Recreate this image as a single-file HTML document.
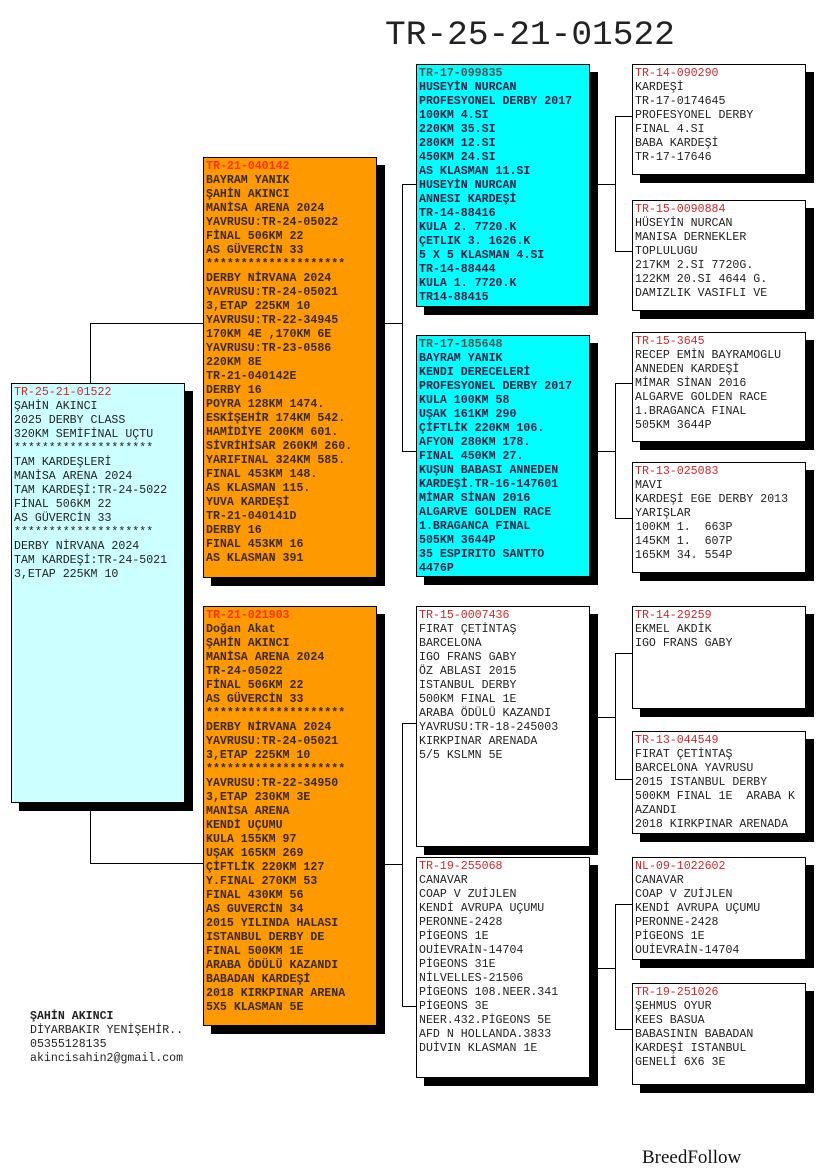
<!DOCTYPE html>
<html><head><meta charset="utf-8">
<style>
body{margin:0;width:825px;height:1172px;background:#fff;position:relative;overflow:hidden;font-family:"Liberation Mono",monospace;}
.b{position:absolute;border:1px solid #000;box-shadow:8px 8px 0 #000;box-sizing:border-box;padding:2px 0 0 2px;font-size:11.6px;line-height:14px;white-space:pre;color:#222;overflow:hidden}
.o{background:#ff9900;font-weight:bold;color:#3a2a10}
.c{background:#00ffff;color:#224;font-weight:bold}
.r{background:#ccffff}
.w{background:#fff}
.h{color:#cc2a2a}
.o .h{color:#ff3300}
.c .h{color:#555}
.l{position:absolute;background:#000}
</style></head><body>
<div style="position:absolute;left:385px;top:18px;font-size:34.5px;line-height:36px;color:#222">TR-25-21-01522</div>

<!-- connectors -->
<div class="l" style="left:90px;top:323px;width:1px;height:60px"></div>
<div class="l" style="left:90px;top:323px;width:113px;height:1px"></div>
<div class="l" style="left:90px;top:802px;width:1px;height:62px"></div>
<div class="l" style="left:90px;top:863px;width:113px;height:1px"></div>

<div class="l" style="left:384px;top:323px;width:18px;height:1px"></div>
<div class="l" style="left:402px;top:184px;width:1px;height:268px"></div>
<div class="l" style="left:402px;top:184px;width:14px;height:1px"></div>
<div class="l" style="left:402px;top:451px;width:14px;height:1px"></div>

<div class="l" style="left:384px;top:864px;width:18px;height:1px"></div>
<div class="l" style="left:402px;top:723px;width:1px;height:284px"></div>
<div class="l" style="left:402px;top:723px;width:14px;height:1px"></div>
<div class="l" style="left:402px;top:1006px;width:14px;height:1px"></div>

<div class="l" style="left:597px;top:184px;width:18px;height:1px"></div>
<div class="l" style="left:615px;top:116px;width:1px;height:136px"></div>
<div class="l" style="left:615px;top:116px;width:17px;height:1px"></div>
<div class="l" style="left:615px;top:251px;width:17px;height:1px"></div>

<div class="l" style="left:597px;top:451px;width:18px;height:1px"></div>
<div class="l" style="left:615px;top:383px;width:1px;height:136px"></div>
<div class="l" style="left:615px;top:383px;width:17px;height:1px"></div>
<div class="l" style="left:615px;top:518px;width:17px;height:1px"></div>

<div class="l" style="left:597px;top:717px;width:18px;height:1px"></div>
<div class="l" style="left:615px;top:653px;width:1px;height:127px"></div>
<div class="l" style="left:615px;top:653px;width:17px;height:1px"></div>
<div class="l" style="left:615px;top:779px;width:17px;height:1px"></div>

<div class="l" style="left:597px;top:968px;width:18px;height:1px"></div>
<div class="l" style="left:615px;top:904px;width:1px;height:126px"></div>
<div class="l" style="left:615px;top:904px;width:17px;height:1px"></div>
<div class="l" style="left:615px;top:1029px;width:17px;height:1px"></div>

<div class="b r" style="left:11px;top:383px;width:174px;height:420px"><span class="h">TR-25-21-01522</span>
ŞAHİN AKINCI
2025 DERBY CLASS
320KM SEMİFİNAL UÇTU
********************
TAM KARDEŞLERİ
MANİSA ARENA 2024
TAM KARDEŞİ:TR-24-5022
FİNAL 506KM 22
AS GÜVERCİN 33
********************
DERBY NİRVANA 2024
TAM KARDEŞİ:TR-24-5021
3,ETAP 225KM 10</div>

<div class="b o" style="left:203px;top:157px;width:174px;height:421px"><span class="h">TR-21-040142</span>
BAYRAM YANIK
ŞAHİN AKINCI
MANİSA ARENA 2024
YAVRUSU:TR-24-05022
FİNAL 506KM 22
AS GÜVERCİN 33
********************
DERBY NİRVANA 2024
YAVRUSU:TR-24-05021
3,ETAP 225KM 10
YAVRUSU:TR-22-34945
170KM 4E ,170KM 6E
YAVRUSU:TR-23-0586
220KM 8E
TR-21-040142E
DERBY 16
POYRA 128KM 1474.
ESKİŞEHİR 174KM 542.
HAMİDİYE 200KM 601.
SİVRİHİSAR 260KM 260.
YARIFINAL 324KM 585.
FINAL 453KM 148.
AS KLASMAN 115.
YUVA KARDEŞİ
TR-21-040141D
DERBY 16
FINAL 453KM 16
AS KLASMAN 391</div>

<div class="b o" style="left:203px;top:606px;width:174px;height:420px"><span class="h">TR-21-021903</span>
Doğan Akat
ŞAHİN AKINCI
MANİSA ARENA 2024
TR-24-05022
FİNAL 506KM 22
AS GÜVERCİN 33
********************
DERBY NİRVANA 2024
YAVRUSU:TR-24-05021
3,ETAP 225KM 10
********************
YAVRUSU:TR-22-34950
3,ETAP 230KM 3E
MANİSA ARENA
KENDİ UÇUMU
KULA 155KM 97
UŞAK 165KM 269
ÇİFTLİK 220KM 127
Y.FINAL 270KM 53
FINAL 430KM 56
AS GUVERCİN 34
2015 YILINDA HALASI
ISTANBUL DERBY DE
FINAL 500KM 1E
ARABA ÖDÜLÜ KAZANDI
BABADAN KARDEŞİ
2018 KIRKPINAR ARENA
5X5 KLASMAN 5E</div>

<div class="b c" style="left:416px;top:64px;width:174px;height:243px"><span class="h">TR-17-099835</span>
HUSEYİN NURCAN
PROFESYONEL DERBY 2017
100KM 4.SI
220KM 35.SI
280KM 12.SI
450KM 24.SI
AS KLASMAN 11.SI
HUSEYİN NURCAN
ANNESI KARDEŞİ
TR-14-88416
KULA 2. 7720.K
ÇETLIK 3. 1626.K
5 X 5 KLASMAN 4.SI
TR-14-88444
KULA 1. 7720.K
TR14-88415</div>

<div class="b c" style="left:416px;top:335px;width:174px;height:242px"><span class="h">TR-17-185648</span>
BAYRAM YANIK
KENDI DERECELERİ
PROFESYONEL DERBY 2017
KULA 100KM 58
UŞAK 161KM 290
ÇİFTLİK 220KM 106.
AFYON 280KM 178.
FINAL 450KM 27.
KUŞUN BABASI ANNEDEN
KARDEŞİ.TR-16-147601
MİMAR SİNAN 2016
ALGARVE GOLDEN RACE
1.BRAGANCA FINAL
505KM 3644P
35 ESPIRITO SANTTO
4476P</div>

<div class="b w" style="left:416px;top:606px;width:174px;height:241px"><span class="h">TR-15-0007436</span>
FIRAT ÇETİNTAŞ
BARCELONA
IGO FRANS GABY
ÖZ ABLASI 2015
ISTANBUL DERBY
500KM FINAL 1E
ARABA ÖDÜLÜ KAZANDI
YAVRUSU:TR-18-245003
KIRKPINAR ARENADA
5/5 KSLMN 5E</div>

<div class="b w" style="left:416px;top:857px;width:174px;height:221px"><span class="h">TR-19-255068</span>
CANAVAR
COAP V ZUİJLEN
KENDİ AVRUPA UÇUMU
PERONNE-2428
PİGEONS 1E
OUİEVRAİN-14704
PİGEONS 31E
NİLVELLES-21506
PİGEONS 108.NEER.341
PİGEONS 3E
NEER.432.PİGEONS 5E
AFD N HOLLANDA.3833
DUİVIN KLASMAN 1E</div>

<div class="b w" style="left:632px;top:64px;width:174px;height:111px"><span class="h">TR-14-090290</span>
KARDEŞİ
TR-17-0174645
PROFESYONEL DERBY
FINAL 4.SI
BABA KARDEŞİ
TR-17-17646</div>

<div class="b w" style="left:632px;top:200px;width:174px;height:111px"><span class="h">TR-15-0090884</span>
HÜSEYİN NURCAN
MANISA DERNEKLER
TOPLULUGU
217KM 2.SI 7720G.
122KM 20.SI 4644 G.
DAMIZLIK VASIFLI VE</div>

<div class="b w" style="left:632px;top:332px;width:174px;height:110px"><span class="h">TR-15-3645</span>
RECEP EMİN BAYRAMOGLU
ANNEDEN KARDEŞİ
MİMAR SİNAN 2016
ALGARVE GOLDEN RACE
1.BRAGANCA FINAL
505KM 3644P</div>

<div class="b w" style="left:632px;top:462px;width:174px;height:111px"><span class="h">TR-13-025083</span>
MAVI
KARDEŞİ EGE DERBY 2013
YARIŞLAR
100KM 1.  663P
145KM 1.  607P
165KM 34. 554P</div>

<div class="b w" style="left:632px;top:606px;width:174px;height:103px"><span class="h">TR-14-29259</span>
EKMEL AKDİK
IGO FRANS GABY</div>

<div class="b w" style="left:632px;top:731px;width:174px;height:103px"><span class="h">TR-13-044549</span>
FIRAT ÇETİNTAŞ
BARCELONA YAVRUSU
2015 ISTANBUL DERBY
500KM FINAL 1E  ARABA K
AZANDI
2018 KIRKPINAR ARENADA</div>

<div class="b w" style="left:632px;top:857px;width:174px;height:103px"><span class="h">NL-09-1022602</span>
CANAVAR
COAP V ZUİJLEN
KENDİ AVRUPA UÇUMU
PERONNE-2428
PİGEONS 1E
OUİEVRAİN-14704</div>

<div class="b w" style="left:632px;top:983px;width:174px;height:102px"><span class="h">TR-19-251026</span>
ŞEHMUS OYUR
KEES BASUA
BABASININ BABADAN
KARDEŞİ ISTANBUL
GENELİ 6X6 3E</div>

<div style="position:absolute;left:30px;top:1010px;font-size:11.6px;line-height:14px;white-space:pre;color:#222"><b>ŞAHİN AKINCI</b>
DİYARBAKIR YENİŞEHİR..
05355128135
akincisahin2@gmail.com</div>

<div style="position:absolute;left:642px;top:1147px;font-family:'Liberation Serif',serif;font-size:19px;line-height:22px;color:#111">BreedFollow</div>
</body></html>
